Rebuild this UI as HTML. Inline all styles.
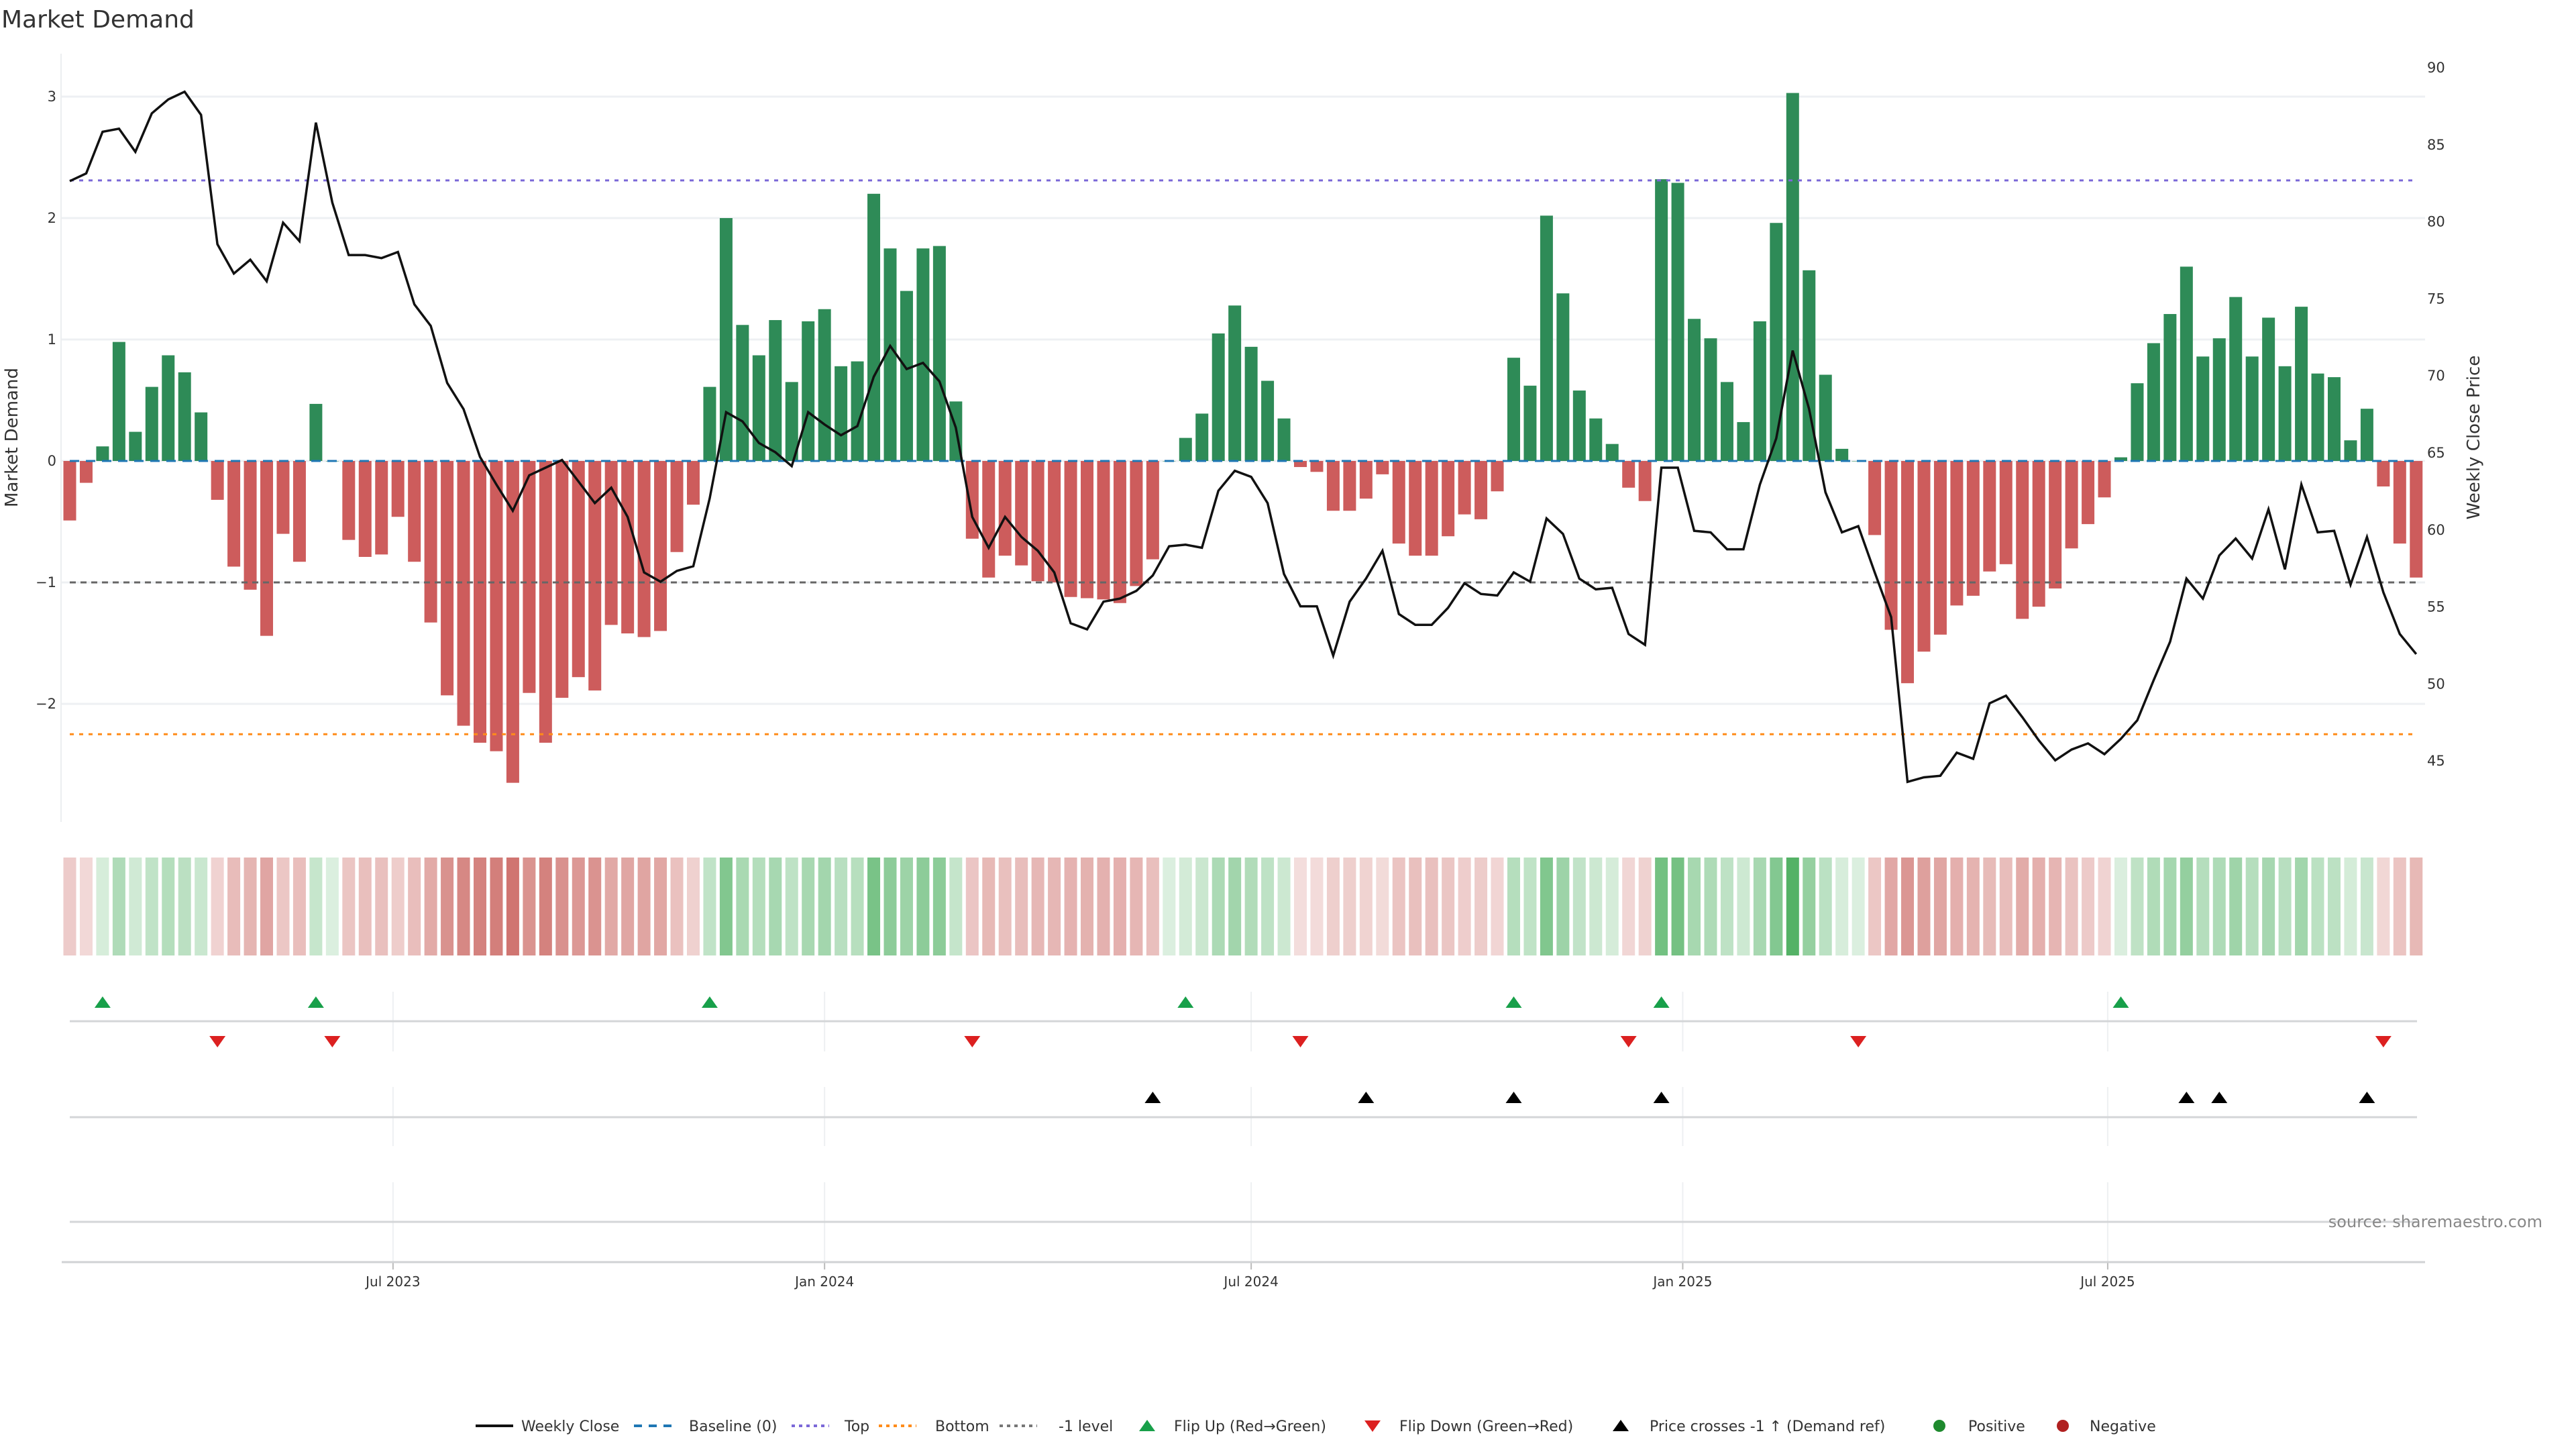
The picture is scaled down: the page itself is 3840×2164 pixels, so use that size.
<!DOCTYPE html>
<html><head><meta charset="utf-8"><title>Market Demand</title>
<style>
html,body{margin:0;padding:0;background:#fff;}
body{width:3840px;height:2160px;overflow:hidden;font-family:"DejaVu Sans","Liberation Sans",sans-serif;}
svg text{font-family:"DejaVu Sans","Liberation Sans",sans-serif;}
</style></head>
<body>
<svg id="chart" width="3840" height="2160" viewBox="0 0 3840 2160" xmlns="http://www.w3.org/2000/svg">
<text x="2" y="41" font-size="36" fill="#333">Market Demand</text>
<g id="grid"></g>
<g id="bars"></g>
<g id="refs"></g>
<g id="price"></g>
<g id="axes"></g>
<g id="heat"></g>
<g id="events"></g>
<text x="3790" y="1829" font-size="24" fill="#888" text-anchor="end">source: sharemaestro.com</text>
<g id="legend"></g>
</svg>
<script>
const demand = [-0.49,-0.18,0.12,0.98,0.24,0.61,0.87,0.73,0.40,-0.32,-0.87,-1.06,-1.44,-0.60,-0.83,0.47,0.0,-0.65,-0.79,-0.77,-0.46,-0.83,-1.33,-1.93,-2.18,-2.32,-2.39,-2.65,-1.91,-2.32,-1.95,-1.78,-1.89,-1.35,-1.42,-1.45,-1.40,-0.75,-0.36,0.61,2.0,1.12,0.87,1.16,0.65,1.15,1.25,0.78,0.82,2.2,1.75,1.40,1.75,1.77,0.49,-0.64,-0.96,-0.78,-0.86,-0.99,-1.00,-1.12,-1.13,-1.14,-1.17,-1.03,-0.81,0.0,0.19,0.39,1.05,1.28,0.94,0.66,0.35,-0.05,-0.09,-0.41,-0.41,-0.31,-0.11,-0.68,-0.78,-0.78,-0.62,-0.44,-0.48,-0.25,0.85,0.62,2.02,1.38,0.58,0.35,0.14,-0.22,-0.33,2.32,2.29,1.17,1.01,0.65,0.32,1.15,1.96,3.03,1.57,0.71,0.10,0.0,-0.61,-1.39,-1.83,-1.57,-1.43,-1.19,-1.11,-0.91,-0.85,-1.30,-1.20,-1.05,-0.72,-0.52,-0.30,0.03,0.64,0.97,1.21,1.60,0.86,1.01,1.35,0.86,1.18,0.78,1.27,0.72,0.69,0.17,0.43,-0.21,-0.68,-0.96];
const closePrice = [82.6,83.1,85.8,86.0,84.5,87.0,87.9,88.4,86.9,78.5,76.6,77.5,76.1,79.9,78.7,86.4,81.2,77.8,77.8,77.6,78.0,74.6,73.2,69.5,67.8,64.7,62.9,61.2,63.5,64.0,64.5,63.1,61.7,62.7,60.8,57.2,56.6,57.3,57.6,62.0,67.6,67.0,65.6,65.0,64.1,67.6,66.8,66.1,66.7,69.9,71.9,70.4,70.8,69.6,66.6,60.8,58.8,60.8,59.5,58.6,57.2,53.9,53.5,55.3,55.5,56.0,57.0,58.9,59.0,58.8,62.5,63.8,63.4,61.7,57.1,55.0,55.0,51.8,55.3,56.8,58.6,54.5,53.8,53.8,54.9,56.5,55.8,55.7,57.2,56.6,60.7,59.7,56.8,56.1,56.2,53.2,52.5,64.0,64.0,59.9,59.8,58.7,58.7,62.9,65.9,71.6,67.8,62.4,59.8,60.2,57.2,54.3,43.6,43.9,44.0,45.5,45.1,48.7,49.2,47.8,46.3,45.0,45.7,46.1,45.4,46.4,47.6,50.2,52.7,56.8,55.5,58.3,59.4,58.1,61.3,57.4,62.9,59.8,59.9,56.4,59.5,55.9,53.2,51.9];
const flipUpIdx = [2,15,39,68,88,97,125];
const flipDownIdx = [9,16,55,75,95,109,141];
const crossIdx = [66,79,88,97,129,131,140];
const levelValues = [2.31,-2.25,-1];
const leftTicks = [-2,-1,0,1,2,3];
const leftTickLabels = ["\u22122","\u22121","0","1","2","3"];
const rightTicks = [45,50,55,60,65,70,75,80,85,90];
const dateTickWeeks = [19.7,46.0,72.0,98.3,124.2];
const dateTickLabels = ["Jul 2023","Jan 2024","Jul 2024","Jan 2025","Jul 2025"];

const NS="http://www.w3.org/2000/svg";
function mk(tag,parent,attrs){const e=document.createElementNS(NS,tag);for(const k in attrs)e.setAttribute(k,attrs[k]);parent.appendChild(e);return e;}
const X0=104, DX=24.46, BW=19;
const xOf=i=>X0+DX*i;
const Y0=687, YU=181;
const yD=v=>Y0-v*YU;
const yP=p=>100+(90-p)*22.96;
const PL=91, PR=3615;

const grid=document.getElementById('grid');
leftTicks.forEach((t,k)=>{
  const l=mk('line',grid,{x1:PL,x2:PR,y1:yD(t),y2:yD(t),stroke:'#eef0f3','stroke-width':3});
  
  
});

const bars=document.getElementById('bars');
demand.forEach((v,i)=>{
  const y1=Math.min(yD(v),Y0), h=Math.max(Math.abs(yD(v)-Y0),0.5);
  const r=mk('rect',bars,{x:xOf(i)-BW/2,y:y1,width:BW,height:h,fill:v>=0?'#2e8b57':'#cd5c5c'});
  
  
});

const refs=document.getElementById('refs');
const b=mk('line',refs,{x1:X0,x2:xOf(demand.length-1),y1:Y0,y2:Y0,stroke:'#1f77b4','stroke-width':3,'stroke-dasharray':'14 10'});


const refStyle=[['#7b68d8','6 8','top-line'],['#ff8c1a','6 8','bottom-line'],['#666','9 7','minus-one-level']];
levelValues.forEach((v,k)=>{
  const l=mk('line',refs,{x1:X0,x2:xOf(demand.length-1),y1:yD(v),y2:yD(v),stroke:refStyle[k][0],'stroke-width':3,'stroke-dasharray':refStyle[k][1]});
  
  
});

const pg=document.getElementById('price');
const pts=closePrice.map((p,i)=>xOf(i).toFixed(1)+','+yP(p).toFixed(1)).join(' ');
const pl=mk('polyline',pg,{points:pts,fill:'none',stroke:'#111','stroke-width':3.5,'stroke-linejoin':'miter'});



const axes=document.getElementById('axes');
const al=mk('line',axes,{x1:PL,x2:PL,y1:80,y2:1225,stroke:'#eceef0','stroke-width':2});


leftTicks.forEach((t,k)=>{
  const tx=mk('text',axes,{x:84,y:yD(t)+7,'font-size':21,fill:'#333','text-anchor':'end'});
  tx.textContent=leftTickLabels[k];
  
  
});
rightTicks.forEach(t=>{
  const tx=mk('text',axes,{x:3618,y:yP(t)+8,'font-size':21,fill:'#333'});
  tx.textContent=t;
  
  
});
const yt=mk('text',axes,{x:0,y:0,'font-size':26,fill:'#333','text-anchor':'middle',transform:'translate(26,652) rotate(-90)'});
yt.textContent='Market Demand';


const yt2=mk('text',axes,{x:0,y:0,'font-size':26,fill:'#333','text-anchor':'middle',transform:'translate(3696,652) rotate(-90)'});
yt2.textContent='Weekly Close Price';



const heat=document.getElementById('heat');
demand.forEach((v,i)=>{
  const t=Math.min(0.2+0.75*Math.abs(v)/3,1);
  const base=v>=0?[76,175,95]:[200,95,90];
  const c=base.map(ch=>Math.round(255+(ch-255)*t));
  const r=mk('rect',heat,{x:xOf(i)-9.5,y:1278,width:19,height:146,fill:'rgb('+c.join(',')+')'});
  
  
});

const ev=document.getElementById('events');
const dateX=w=>X0+DX*w;
dateTickWeeks.forEach((w,k)=>{
  [[1478,1567],[1620,1708],[1762,1880]].forEach(s=>{
    const g=mk('line',ev,{x1:dateX(w),x2:dateX(w),y1:s[0],y2:s[1],stroke:'#eef0f2','stroke-width':2});
    
    
  });
  const tk=mk('line',ev,{x1:dateX(w),x2:dateX(w),y1:1881,y2:1892,stroke:'#bbb','stroke-width':2});
  
  
  const tx=mk('text',ev,{x:dateX(w),y:1917,'font-size':20,fill:'#333','text-anchor':'middle'});
  tx.textContent=dateTickLabels[k];
  
  
});
[1522,1665,1821].forEach(y=>{
  const l=mk('line',ev,{x1:104,x2:3603,y1:y,y2:y,stroke:'#d4d6d8','stroke-width':3});
  
  
});
const ax=mk('line',ev,{x1:92,x2:3615,y1:1881,y2:1881,stroke:'#d0d2d4','stroke-width':3});


function tri(parent,cx,cy,up,fill){
  const p=up?`${cx-12},${cy+8} ${cx+12},${cy+8} ${cx},${cy-9}`:`${cx-12},${cy-8} ${cx+12},${cy-8} ${cx},${cy+9}`;
  return mk('polygon',parent,{points:p,fill:fill});
}
flipUpIdx.forEach(i=>{
  const t=tri(ev,xOf(i),1494,true,'#18a04a');
  
  
});
flipDownIdx.forEach(i=>{
  const t=tri(ev,xOf(i),1552,false,'#dc2020');
  
  
});
crossIdx.forEach(i=>{
  const t=tri(ev,xOf(i),1636,true,'#000');
  
  
});

const lg=document.getElementById('legend');
const LY=2125;
const items=[
 ['line',709,777,'Weekly Close','#111',''],
 ['line',945,1027,'Baseline (0)','#1f77b4','12 10'],
 ['line',1180,1259,'Top','#7b68d8','5 6'],
 ['line',1310,1394,'Bottom','#ff8c1a','5 6'],
 ['line',1490,1578,'-1 level','#777','5 6'],
 ['up',1710,1750,'Flip Up (Red\u2192Green)','#18a04a'],
 ['down',2046,2086,'Flip Down (Green\u2192Red)','#dc2020'],
 ['up',2416,2459,'Price crosses -1 \u2191 (Demand ref)','#000'],
 ['dot',2891,2934,'Positive','#1e8a2e'],
 ['dot',3075,3115,'Negative','#b02020']
];
items.forEach(it=>{
  let m;
  if(it[0]==='line'){m=mk('line',lg,{x1:it[1],x2:it[1]+56,y1:LY,y2:LY,stroke:it[4],'stroke-width':4});if(it[5])m.setAttribute('stroke-dasharray',it[5]);}
  else if(it[0]==='dot'){m=mk('circle',lg,{cx:it[1],cy:LY,r:9,fill:it[4]});}
  else {m=tri(lg,it[1],LY,it[0]==='up',it[4]);}
  
  
  const tx=mk('text',lg,{x:it[2],y:LY+8,'font-size':22,fill:'#333'});
  tx.textContent=it[3];
  
  
});
</script>
</body></html>
